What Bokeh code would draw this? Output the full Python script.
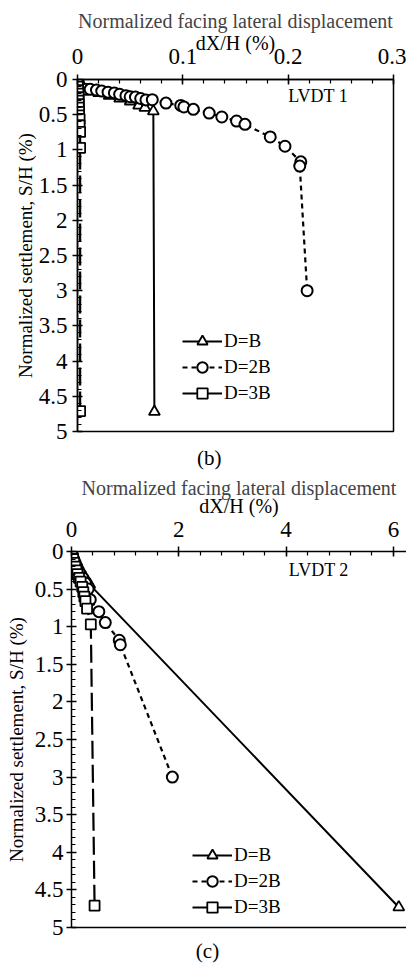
from bokeh.plotting import figure
from bokeh.models import Range1d, FixedTicker, LinearAxis, Legend, LegendItem, Label
from bokeh.layouts import column
from bokeh.embed import file_html
from bokeh.resources import INLINE

FONT = "Liberation Serif"

# ---------------- data: panel (b), LVDT 1 ----------------
b_DB_dx = [0, 0.0005, 0.002, 0.006, 0.012, 0.02, 0.03, 0.04, 0.05, 0.058, 0.064, 0.072, 0.073]
b_DB_s = [0, 0.05, 0.1, 0.14, 0.16, 0.19, 0.23, 0.27, 0.31, 0.37, 0.40, 0.45, 4.72]

b_D2B_dx = [0, 0.0005, 0.001, 0.002, 0.004, 0.008, 0.012, 0.018, 0.023, 0.029, 0.035, 0.040,
            0.046, 0.050, 0.055, 0.060, 0.065, 0.071, 0.084, 0.098, 0.101, 0.110, 0.125,
            0.137, 0.151, 0.159, 0.183, 0.197, 0.212, 0.211, 0.218]
b_D2B_s = [0, 0.03, 0.06, 0.10, 0.13, 0.14, 0.14, 0.15, 0.165, 0.18, 0.19, 0.21,
           0.23, 0.245, 0.25, 0.27, 0.29, 0.287, 0.335, 0.368, 0.39, 0.424, 0.477,
           0.533, 0.59, 0.637, 0.816, 0.948, 1.17, 1.23, 3.0]

b_D3B_dx = [0, 0, 0.0003, 0.0005, 0.0008, 0.001, 0.001, 0.0012, 0.0012, 0.0015, 0.0015,
            0.002, 0.002, 0.0025, 0.0025, 0.0025]
b_D3B_s = [0, 0.05, 0.1, 0.15, 0.2, 0.25, 0.3, 0.35, 0.4, 0.46, 0.51, 0.56, 0.65, 0.745, 0.97, 4.71]

# ---------------- data: panel (c), LVDT 2 ----------------
c_DB_dx = [0, 0.03, 0.06, 0.09, 0.12, 0.16, 0.2, 0.25, 0.3, 0.34, 6.1]
c_DB_s = [0, 0.05, 0.1, 0.15, 0.2, 0.25, 0.3, 0.35, 0.4, 0.44, 4.73]

c_D2B_dx = [0, 0.02, 0.04, 0.07, 0.1, 0.13, 0.17, 0.21, 0.26, 0.31, 0.35, 0.51, 0.63, 0.89, 0.91, 1.88]
c_D2B_s = [0, 0.05, 0.1, 0.15, 0.2, 0.25, 0.3, 0.35, 0.42, 0.5, 0.64, 0.80, 0.945, 1.18, 1.24, 3.0]

c_D3B_dx = [0, 0.01, 0.03, 0.05, 0.07, 0.09, 0.11, 0.14, 0.17, 0.2, 0.22, 0.24, 0.26, 0.29, 0.36, 0.43]
c_D3B_s = [0, 0.05, 0.1, 0.15, 0.2, 0.25, 0.3, 0.35, 0.4, 0.47, 0.54, 0.6, 0.66, 0.76, 0.97, 4.71]

# ---------------- ticks and texts ----------------
y_ticks = [0, 0.5, 1, 1.5, 2, 2.5, 3, 3.5, 4, 4.5, 5]
y_tick_labels = ["0", "0.5", "1", "1.5", "2", "2.5", "3", "3.5", "4", "4.5", "5"]
b_x_ticks = [0, 0.1, 0.2, 0.3]
b_x_tick_labels = ["0", "0.1", "0.2", "0.3"]
c_x_ticks = [0, 2, 4, 6]
c_x_tick_labels = ["0", "2", "4", "6"]

series_names = ["D=B", "D=2B", "D=3B"]
x_title = "Normalized facing lateral displacement"
x_label = "dX/H (%)"
y_label = "Normalized settlement, S/H (%)"
captions = ["(b)", "(c)"]

NBSP = "\u00a0"


def style_axis(ax, standoff, label_size):
    ax.axis_line_color = "black"
    ax.axis_line_width = 1.5
    ax.major_tick_line_color = "black"
    ax.major_tick_line_width = 1.5
    ax.minor_tick_line_color = "black"
    ax.minor_tick_line_width = 1.2
    ax.major_tick_in = 5
    ax.major_tick_out = 5
    ax.minor_tick_in = 4
    ax.minor_tick_out = 0
    ax.major_label_text_font = FONT
    ax.major_label_text_font_size = "23px"
    ax.major_label_text_color = "black"
    ax.major_label_standoff = standoff
    ax.axis_label_text_font = FONT
    ax.axis_label_text_font_size = label_size
    ax.axis_label_text_font_style = "normal"
    ax.axis_label_text_color = "black"


def make_panel(height, xmax, x_ticks, x_tick_labels, x_minor, left, right, top, bottom,
               data, lvdt_text, lvdt_xy, legend_loc, ylab_standoff, ylab_tick_standoff,
               xtick_standoff, xlab_standoff, title_standoff, caption, caption_pad,
               caption_standoff, bottom_line):
    p = figure(width=406, height=height, output_backend="svg", toolbar_location=None,
               x_axis_location="above", x_range=Range1d(0, xmax), y_range=Range1d(5, 0),
               min_border_left=left, min_border_right=right, min_border_top=top,
               min_border_bottom=bottom, title=x_title)
    p.frame_align = False
    p.title.text_font = FONT
    p.title.text_font_size = "20px"
    p.title.text_font_style = "normal"
    p.title.align = "center"
    p.title.standoff = title_standoff
    p.grid.visible = False
    p.background_fill_color = "white"
    p.border_fill_color = "white"

    xa = p.xaxis[0]
    xa.ticker = FixedTicker(ticks=x_ticks, minor_ticks=x_minor)
    xa.major_label_overrides = {t: l for t, l in zip(x_ticks, x_tick_labels)}
    xa.axis_label = x_label
    style_axis(xa, xtick_standoff, "20px")
    xa.axis_label_standoff = xlab_standoff

    ya = p.yaxis[0]
    ya.ticker = FixedTicker(ticks=y_ticks, minor_ticks=[i * 0.1 for i in range(51)])
    ya.major_label_overrides = {t: l for t, l in zip(y_ticks, y_tick_labels)}
    ya.axis_label = y_label
    style_axis(ya, ylab_tick_standoff, "19px")
    ya.axis_label_standoff = ylab_standoff

    (db_x, db_y), (d2_x, d2_y), (d3_x, d3_y) = data
    l1 = p.line(db_x, db_y, line_color="black", line_width=2)
    s1 = p.scatter(db_x, db_y, marker="triangle", size=11, fill_color="white",
                   line_color="black", line_width=1.8)
    l2 = p.line(d2_x, d2_y, line_color="black", line_width=2.2, line_dash="5 4")
    s2 = p.scatter(d2_x, d2_y, marker="circle", size=11, fill_color="white",
                   line_color="black", line_width=2)
    l3 = p.line(d3_x, d3_y, line_color="black", line_width=2.2, line_dash="18 6")
    s3 = p.scatter(d3_x, d3_y, marker="square", size=10, fill_color="white",
                   line_color="black", line_width=1.8)

    legend = Legend(items=[LegendItem(label=series_names[0], renderers=[l1, s1]),
                           LegendItem(label=series_names[1], renderers=[l2, s2]),
                           LegendItem(label=series_names[2], renderers=[l3, s3])],
                    location=legend_loc, border_line_color=None, background_fill_alpha=0,
                    padding=0, margin=0, spacing=0, glyph_width=40, glyph_height=26,
                    label_height=26, label_standoff=2, label_text_font=FONT,
                    label_text_font_size="19px", label_text_color="black")
    p.add_layout(legend)

    p.add_layout(Label(x=lvdt_xy[0], y=lvdt_xy[1], text=lvdt_text, text_font=FONT,
                       text_font_size="18px", text_baseline="middle", text_color="black"))

    # caption as the label of a tick-less bottom axis
    cap_axis = LinearAxis(ticker=FixedTicker(ticks=[]), major_tick_out=0, major_tick_in=0,
                          minor_tick_out=0, minor_tick_in=0,
                          axis_line_color="black" if bottom_line else None,
                          axis_line_width=1.5, major_label_text_font_size="0px",
                          major_label_standoff=0, axis_label=caption + NBSP * caption_pad,
                          axis_label_standoff=caption_standoff, axis_label_text_font=FONT,
                          axis_label_text_font_size="21px", axis_label_text_font_style="normal",
                          axis_label_text_color="black")
    p.add_layout(cap_axis, "below")
    return p


# panel (b)
p1 = make_panel(472, 0.3, b_x_ticks, b_x_tick_labels,
                [i * 0.02 for i in range(16)], 77, 13, 79, 39,
                [(b_DB_dx, b_DB_s), (b_D2B_dx, b_D2B_s), (b_D3B_dx, b_D3B_s)],
                "LVDT 1", (0.2, 0.23), (105, 25), 0, 5, 11, -8, -6,
                captions[0], 10, 14, False)
p1.outline_line_color = "black"
p1.outline_line_width = 1.5

# panel (c)
p2 = make_panel(493, 6.244, c_x_ticks, c_x_tick_labels,
                [i * 0.4 for i in range(16)], 71, 0, 79, 37,
                [(c_DB_dx, c_DB_s), (c_D2B_dx, c_D2B_s), (c_D3B_dx, c_D3B_s)],
                "LVDT 2", (4.05, 0.24), (121, 7), 5, 3, 10, 2, -14,
                captions[1], 12, 11, True)
p2.outline_line_color = None

layout = column(p1, p2, spacing=0)
open("out.html", "w").write(file_html(layout, INLINE))
